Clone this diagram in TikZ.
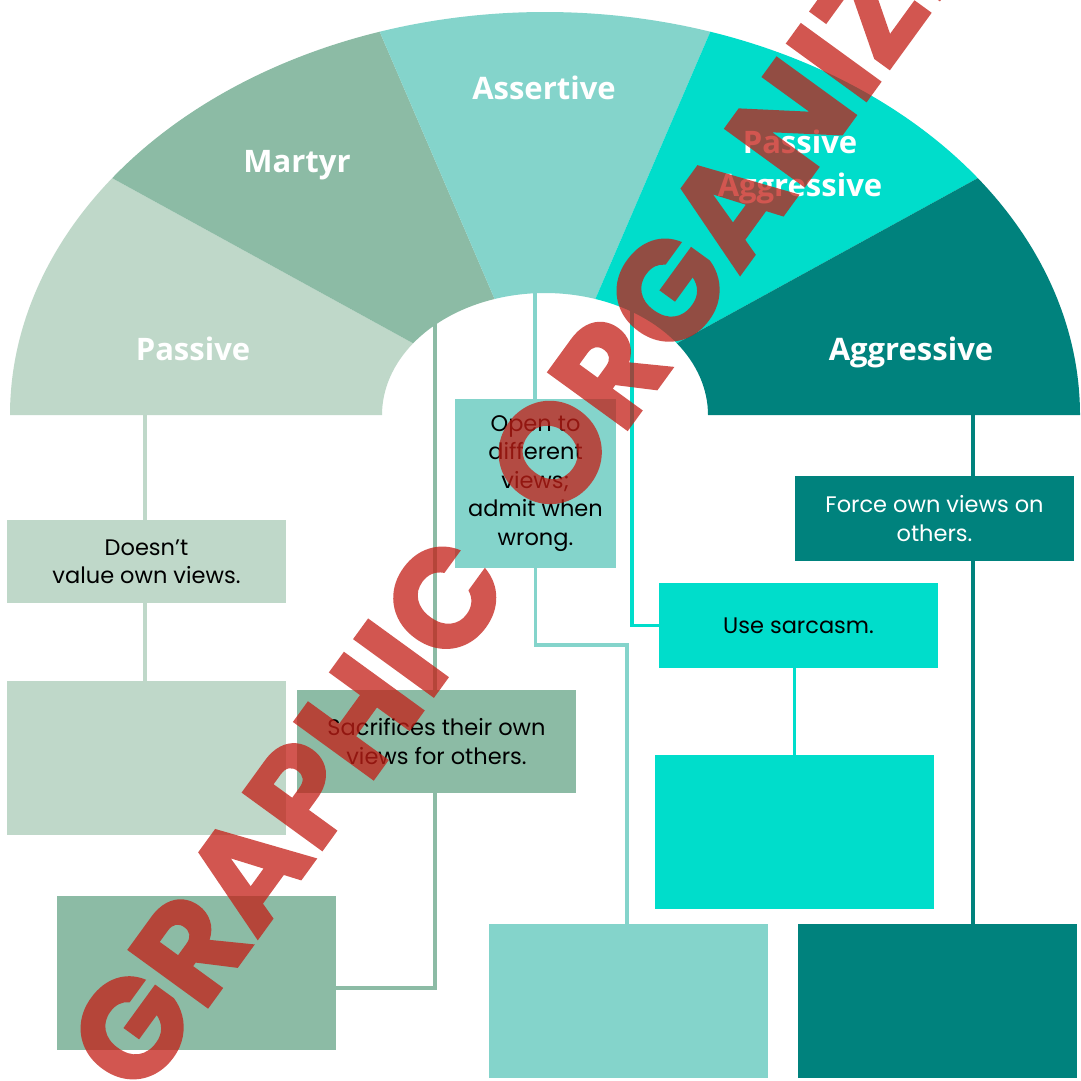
\documentclass[tikz,border=0pt]{standalone}
\usepackage{fontspec}
\setmainfont{Poppins}
\newfontfamily\headfont{Open Sans}
\newfontfamily\wmfont{Poppins}[FakeBold=1.2]
\usetikzlibrary{calc}
\definecolor{cPas}{HTML}{BFD8C9}
\definecolor{cMar}{HTML}{8CBBA5}
\definecolor{cAss}{HTML}{84D4CB}
\definecolor{cPA}{HTML}{00DDCB}
\definecolor{cAgg}{HTML}{00827D}
\definecolor{wmred}{RGB}{196,30,22}
\pgfdeclarelayer{back}
\pgfdeclarelayer{bg}
\pgfsetlayers{back,bg,main}
\begin{document}
\begin{tikzpicture}[x=1pt,y=-1pt,
  box/.style={inner sep=0pt, minimum width=279pt, align=center,
    font=\fontsize{22.5}{28.5}\selectfont},
  head/.style={text=white, font=\headfont\bfseries\fontsize{31}{43}\selectfont,
    anchor=base, inner sep=0pt},
  conn/.style={line width=3.8pt},
  wm/.style={anchor=base west, rotate=54, inner sep=0pt, text=wmred,
    font=\wmfont\bfseries\fontsize{140}{140}\selectfont}
]
\useasboundingbox (0,0) rectangle (1081,1080);
\begin{pgfonlayer}{back}
\fill[white] (0,0) rectangle (1081,1080);
\end{pgfonlayer}

% ring sectors
\newcommand{\sector}[3]{%
  \fill[#3] ([shift={(545,415)}]-#1:535 and 403)
    arc[start angle=-#1, end angle=-#2, x radius=535, y radius=403]
    -- ([shift={(545,415)}]-#2:163 and 122)
    arc[start angle=-#2, end angle=-#1, x radius=163, y radius=122]
    -- cycle;}
\sector{180}{144}{cPas}
\sector{144}{108}{cMar}
\sector{108}{72}{cAss}
\sector{72}{36}{cPA}
\sector{36}{0}{cAgg}

% headings
\node[head] (hPas) at (193,360) {Passive};
\node[head] (hMar) at (297,172) {Martyr};
\node[head] (hAss) at (544,99) {Assertive};
\node[head] (hPA1) at (800,153) {Passive};
\node[head] (hPA2) at (800,196) {Aggressive};
\node[head] (hAgg) at (911,360) {Aggressive};

% boxes
\node[box, fill=cPas, minimum height=83pt] (P1) at (146.5,561.5) {Doesn’t\\value own views.};
\node[box, fill=cPas, minimum height=154pt] (P2) at (146.5,758) {};
\node[box, fill=cMar, minimum height=103pt] (M1) at (436.5,741.5) {Sacrifices their own\\views for others.};
\node[box, fill=cMar, minimum height=154pt] (M2) at (196.5,973) {};
\node[box, fill=cAss, minimum width=161pt, minimum height=169pt] (A1) at (535.5,483.5) {Open to\\different\\views;\\admit when\\wrong.};
\node[box, fill=cAss, minimum height=154pt] (A2) at (628.5,1001) {};
\node[box, fill=cPA, minimum height=85pt] (PA1) at (798.5,625.5) {Use sarcasm.};
\node[box, fill=cPA, minimum height=154pt] (PA2) at (794.5,832) {};
\node[box, fill=cAgg, text=white, minimum height=85pt] (G1) at (934.5,518.5) {Force own views on\\others.};
\node[box, fill=cAgg, minimum height=154pt] (G2) at (937.5,1001) {};

% connector anchors
\coordinate (pT) at (145,410);
\coordinate (mT) at (435,318);
\coordinate (mB) at (435,988);
\coordinate (aT) at (535,288);
\coordinate (aK) at (627,645);
\coordinate (paT) at (632,306);
\coordinate (gT) at (973,410);

\begin{pgfonlayer}{bg}
\draw[conn, cPas] (pT) -- (pT |- P2.north);
\draw[conn, cMar] (mT) -- (mB) -- (mB -| M2.east);
\draw[conn, cAss] (aT) -- (aT |- A1.north);
\draw[conn, cAss] (A1.south) |- (aK) -- (aK |- A2.north);
\draw[conn, cPA] (paT) |- (PA1.west);
\draw[conn, cPA] (PA2.north |- PA1.south) -- (PA2.north);
\draw[conn, cAgg] (gT) -- (gT |- G2.north);
\end{pgfonlayer}

% watermark
\begin{scope}[transparency group, opacity=0.75]
\node[wm] (wmark) at (140,1101) {GRAPHIC\hspace{0.3em} ORGANIZER};
\end{scope}
\end{tikzpicture}
\end{document}
